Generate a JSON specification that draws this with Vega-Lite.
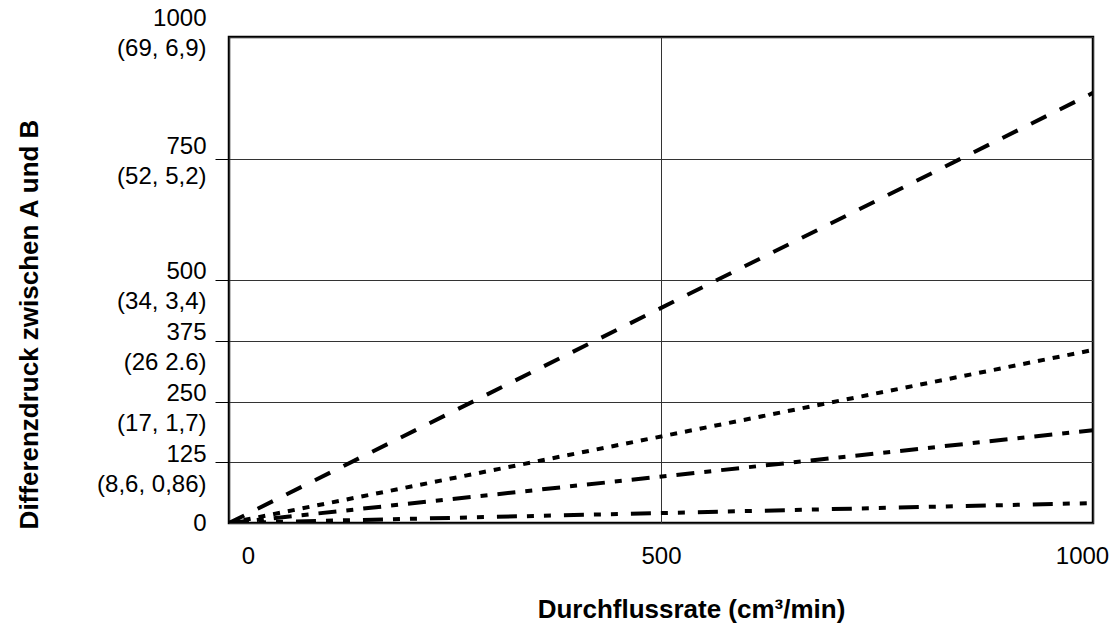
{
  "$schema": "https://vega.github.io/schema/vega-lite/v6.json",
  "width": 864,
  "height": 486,
  "autosize": {"type": "none"},
  "padding": {"left": 229, "top": 37, "right": 18, "bottom": 102},
  "background": "white",
  "config": {
    "view": {"stroke": "black", "strokeWidth": 2.5},
    "font": "Liberation Sans"
  },
  "data": {
    "values": [
      {"kurve": "A", "rate": 0, "druck": 0},
      {"kurve": "A", "rate": 1000, "druck": 885},
      {"kurve": "B", "rate": 0, "druck": 0},
      {"kurve": "B", "rate": 1000, "druck": 356},
      {"kurve": "C", "rate": 0, "druck": 0},
      {"kurve": "C", "rate": 1000, "druck": 191},
      {"kurve": "D", "rate": 0, "druck": 0},
      {"kurve": "D", "rate": 1000, "druck": 41}
    ]
  },
  "mark": {"type": "line", "color": "black", "strokeWidth": 4, "strokeCap": "butt", "clip": true},
  "encoding": {
    "x": {
      "field": "rate",
      "type": "quantitative",
      "scale": {"domain": [0, 1000], "nice": false, "zero": false},
      "axis": {
        "title": "Durchflussrate (cm³/min)",
        "values": [0, 500, 1000],
        "format": "d",
        "domain": false,
        "ticks": false,
        "grid": true,
        "gridColor": "#333",
        "gridWidth": 1,
        "labelFontSize": 24,
        "labelColor": "black",
        "labelPadding": 21,
        "labelFlush": false,
        "labelOverlap": false,
        "labelOffset": {"condition": [{"test": "datum.value == 0", "value": 19}, {"test": "datum.value == 1000", "value": -11}], "value": 0},
        "titleFontSize": 26,
        "titleFontWeight": "bold",
        "titleColor": "black",
        "titleX": 462,
        "titleY": 94,
        "titleAlign": "center",
        "titleBaseline": "alphabetic"
      }
    },
    "y": {
      "field": "druck",
      "type": "quantitative",
      "scale": {"domain": [0, 1000], "nice": false},
      "axis": {
        "title": "Differenzdruck zwischen A und B",
        "values": [0, 125, 250, 375, 500, 750, 1000],
        "domain": false,
        "ticks": true,
        "tickSize": 14,
        "tickColor": "black",
        "tickWidth": 1,
        "tickOpacity": {"condition": {"test": "datum.value == 0 || datum.value == 1000", "value": 0}, "value": 1},
        "grid": true,
        "gridColor": "#333",
        "gridWidth": 1,
        "labelExpr": "datum.value == 0 ? '0' : datum.value == 125 ? ['125', '(8,6, 0,86)'] : datum.value == 250 ? ['250', '(17, 1,7)'] : datum.value == 375 ? ['375', '(26 2.6)'] : datum.value == 500 ? ['500', '(34, 3,4)'] : datum.value == 750 ? ['750', '(52, 5,2)'] : ['1000', '(69, 6,9)']",
        "labelFontSize": 24,
        "labelColor": "black",
        "labelLineHeight": 30,
        "labelPadding": 9,
        "labelBaseline": "middle",
        "labelAlign": "right",
        "labelFlush": false,
        "labelOverlap": false,
        "labelOffset": {"condition": [{"test": "datum.value == 0", "value": 0}, {"test": "datum.value == 1000", "value": -19}, {"test": "datum.value == 750", "value": -12}, {"test": "datum.value == 500", "value": -9}], "value": -8},
        "titleFontSize": 26,
        "titleFontWeight": "bold",
        "titleColor": "black",
        "titleAngle": -90,
        "titleX": -192,
        "titleY": 287,
        "titleAlign": "center",
        "titleBaseline": "alphabetic"
      }
    },
    "strokeDash": {
      "field": "kurve",
      "type": "nominal",
      "scale": {"domain": ["A", "B", "C", "D"], "range": [[17, 15], [7, 8], [18, 10, 7, 10], [20, 10, 7, 10, 7, 13]]},
      "legend": null
    }
  }
}
